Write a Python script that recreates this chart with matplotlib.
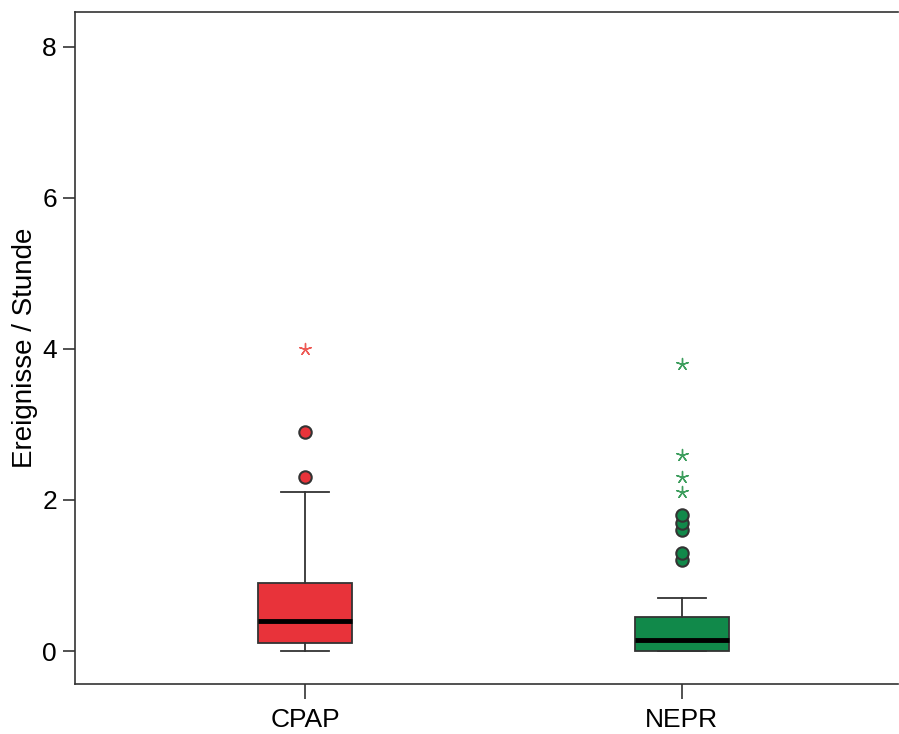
import matplotlib
matplotlib.use('Agg')
import matplotlib.pyplot as plt

plt.rcParams['font.family'] = ['Liberation Sans', 'DejaVu Sans']

# Data #

groups = ['CPAP', 'NEPR']
q1 = [0.1, 0.0]
median = [0.4, 0.15]
q3 = [0.9, 0.45]
whislo = [0.0, 0.0]
whishi = [2.1, 0.7]
circles = [[2.3, 2.9], [1.2, 1.3, 1.6, 1.7, 1.8]]
stars = [[4.0], [2.1, 2.3, 2.6, 3.8]]

box_colors = ['#E8333A', '#11894A']
star_colors = ['#EE5A55', '#3E9E5E']

fig = plt.figure(figsize=(8.99, 7.34), dpi=100)
ax = fig.add_axes([0.0834, 0.0681, 0.9155, 0.9155])

stats = []
for i, g in enumerate(groups):
    stats.append({'label': g, 'q1': q1[i], 'med': median[i], 'q3': q3[i],
                  'whislo': whislo[i], 'whishi': whishi[i], 'fliers': []})

pos = [1, 2]
bp = ax.bxp(stats, positions=pos, widths=0.25, patch_artist=True,
            showfliers=False, showcaps=True, capwidths=0.128,
            boxprops=dict(edgecolor='#333333', linewidth=1.3),
            whiskerprops=dict(color='#333333', linewidth=1.3),
            capprops=dict(color='#333333', linewidth=1.3),
            medianprops=dict(color='black', linewidth=3.5))
for patch, c in zip(bp['boxes'], box_colors):
    patch.set_facecolor(c)

for i, p in enumerate(pos):
    ax.scatter([p] * len(circles[i]), circles[i], s=80, marker='o',
               facecolor=box_colors[i], edgecolor='#333333', linewidth=1.5, zorder=3)
    ax.scatter([p] * len(stars[i]), stars[i], s=75, marker=(5, 2, 0),
               color=star_colors[i], linewidth=1.0, zorder=3)

ax.set_xlim(0.388, 2.574)
ax.set_ylim(-0.437, 8.46)
ax.set_yticks([0, 2, 4, 6, 8])
ax.set_xticks(pos)
ax.set_xticklabels(groups)
ax.spines['right'].set_visible(False)
for s in ['left', 'top', 'bottom']:
    ax.spines[s].set_color('#333333')
    ax.spines[s].set_linewidth(1.2)
ax.tick_params(axis='y', direction='out', length=9, width=1.2, color='#333333',
               labelsize=19, pad=4)
ax.tick_params(axis='x', direction='out', length=11, width=1.2, color='#333333',
               labelsize=19, pad=6)
ax.set_ylabel('Ereignisse / Stunde', fontsize=20, labelpad=3)

fig.savefig('out.png', dpi=100)
